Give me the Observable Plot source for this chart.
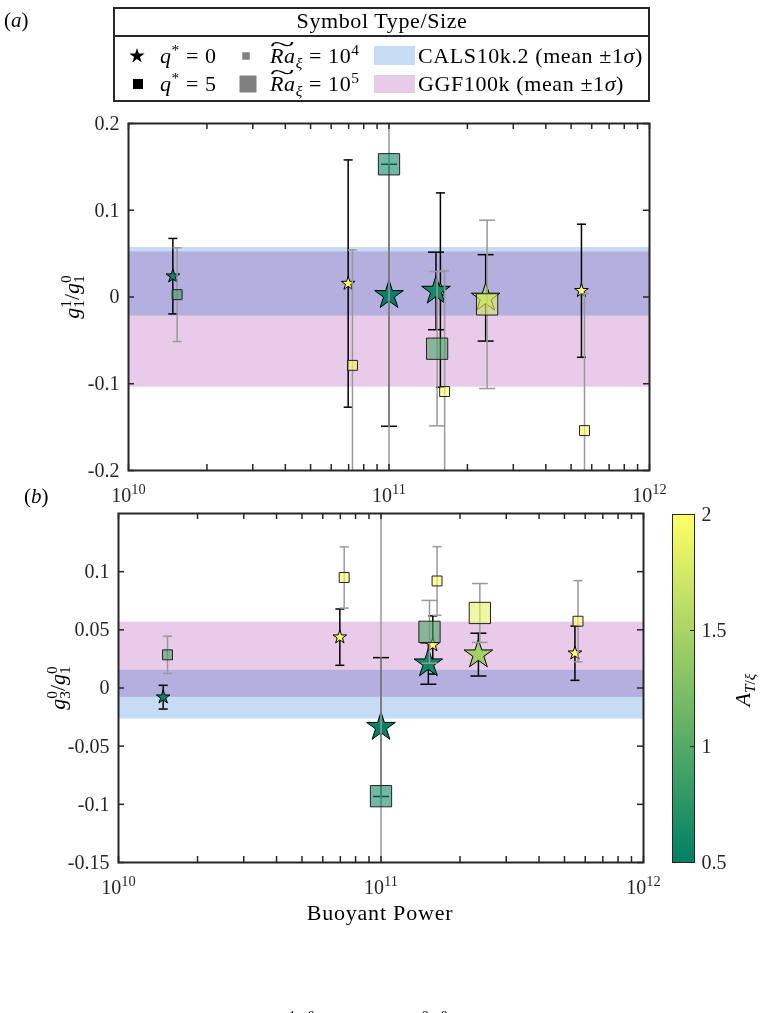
<!DOCTYPE html>
<html><head><meta charset="utf-8">
<script src="https://cdn.jsdelivr.net/npm/d3@7"></script>
<script src="https://cdn.jsdelivr.net/npm/@observablehq/plot@0.6"></script>
<style>
html,body{margin:0;padding:0;background:#fff;overflow:hidden;}
#root{position:relative;width:762px;height:1013px;overflow:hidden;font-family:"Liberation Serif",serif;color:#000;}
.tl{position:relative;display:inline-block;font-style:italic;}
.tl::before{content:"~";position:absolute;left:0;right:0;top:-0.55em;text-align:center;font-style:normal;transform:scaleX(2.1);}
sub,sup{font-size:0.7em;line-height:0;}
.sb{font-size:0.7em;position:relative;top:0.3em;}
.sp{font-size:0.7em;position:relative;top:-0.55em;margin-left:-0.5em;}
.sp2{font-size:0.7em;position:relative;top:-0.55em;}
</style></head>
<body><div id="root"></div>
<script>
// ---------------- DATA ----------------
// Background bands (mean ± 1σ)
const bandNames  = ["CALS10k.2", "GGF100k"];
const bandColors = ["#c6dcf4", "#e8cbe9"];
const bandMeanA  = [0.0175, -0.026];    // panel (a): g11/g10
const bandSigmaA = [0.0395, 0.078];
const bandMeanB  = [-0.00575, 0.0243];  // panel (b): g30/g10
const bandSigmaB = [0.02095, 0.0323];

// q* = 0 runs (stars)
const starPower  = [1.48e10, 6.97e10, 1.0e11, 1.515e11, 1.575e11, 2.35e11, 5.48e11];
const starRa     = [1e4, 1e4, 1e5, 1e5, 1e4, 1e5, 1e4];
const starA      = [0.55, 2.0, 0.5, 0.6, 2.0, 1.45, 2.0];
const starG11    = [0.024, 0.0155, 0.002, 0.007, 0.008, -0.001, 0.0072];
const starG11Err = [0.0435, 0.1425, 0.151, 0.0447, 0.112, 0.0498, 0.0767];
const starG30    = [-0.0079, 0.0437, -0.0336, 0.021, 0.037, 0.0287, 0.0299];
const starG30Err = [0.0102, 0.0242, 0.0597, 0.0178, 0.025, 0.0184, 0.0233];

// q* = 5 runs (squares)
const squarePower  = [1.537e10, 7.24e10, 1.0e11, 1.53e11, 1.635e11, 2.38e11, 5.63e11];
const squareRa     = [1e4, 1e4, 1e5, 1e5, 1e4, 1e5, 1e4];
const squareA      = [0.9, 2.0, 0.6, 0.95, 2.0, 1.85, 2.0];
const squareG11    = [0.0027, -0.0788, 0.153, -0.0596, -0.109, -0.0085, -0.154];
const squareG11Err = [0.054, 0.133, 0.4, 0.089, 0.139, 0.097, 0.158];
const squareG30    = [0.0285, 0.095, -0.093, 0.0483, 0.092, 0.0645, 0.0574];
const squareG30Err = [0.016, 0.0263, 0.3, 0.027, 0.0295, 0.0253, 0.0349];

// Ticks
const xMajorTicks = [1e10, 1e11, 1e12];
const xTickLabels = ["10^10", "10^11", "10^12"];
const xMinorTicks = [2e10,3e10,4e10,5e10,6e10,7e10,8e10,9e10,2e11,3e11,4e11,5e11,6e11,7e11,8e11,9e11];
const yTicksA = [-0.2, -0.1, 0, 0.1, 0.2];
const yTicksB = [-0.15, -0.1, -0.05, 0, 0.05, 0.1];
const cbarTicks = [0.5, 1, 1.5, 2];
const colorDomain = [0.5, 2];
const colorRange = ["#008066", "#ffff66"]; // summer colormap

// ---------------- DRAWING ----------------
const W = 762;
const root = document.getElementById("root");
const NS = "http://www.w3.org/2000/svg";
const AX = "#262626";
const FONT = "Liberation Serif, serif";

const capSymbol = {draw(ctx, size) { const w = Math.sqrt(size); ctx.moveTo(-w / 2, 0); ctx.lineTo(w / 2, 0); }};

function fmtY(d) { return d === 0 ? "0" : String(+d.toFixed(2)); }

function supify(svg) {
  svg.querySelectorAll("text").forEach(t => {
    const s = t.textContent;
    if (s.includes("^")) {
      const [b, e] = s.split("^");
      while (t.firstChild) t.removeChild(t.firstChild);
      const t1 = document.createElementNS(NS, "tspan"); t1.textContent = b;
      const t2 = document.createElementNS(NS, "tspan"); t2.textContent = e;
      t2.setAttribute("dy", "-0.55em"); t2.setAttribute("font-size", "0.72em");
      t.append(t1, t2);
    }
  });
}

function addAbs(el, left, top) {
  el.style.position = "absolute"; el.style.left = left + "px"; el.style.top = top + "px";
  root.appendChild(el);
}

function makePanel({val, err, sqVal, sqErr, yDomain, yTicks, bandMean, bandSigma, mL, mR, mT, mB, H}) {
  const stars = starPower.map((x, i) => ({x, y: val[i], e: err[i], Ra: starRa[i], A: starA[i]}));
  const squares = squarePower.map((x, i) => ({x, y: sqVal[i], e: sqErr[i], Ra: squareRa[i], A: squareA[i]}));
  const bands = bandNames.map((n, i) => ({name: n, lo: bandMean[i] - bandSigma[i], hi: bandMean[i] + bandSigma[i], color: bandColors[i]}));
  const small = d => d.Ra < 5e4, big = d => d.Ra >= 5e4;
  const innerW = W - mL - mR, innerH = H - mT - mB;
  const errMarks = (data, color) => [
    Plot.ruleX(data, {x: "x", y1: d => d.y - d.e, y2: d => d.y + d.e, stroke: color, strokeWidth: 1.5, clip: true}),
    ...[[small, 5.1], [big, 9]].flatMap(([f, r]) => [
      Plot.dot(data.filter(f), {x: "x", y: d => d.y + d.e, symbol: capSymbol, r, stroke: color, strokeWidth: 1.5, fill: "none", clip: true}),
      Plot.dot(data.filter(f), {x: "x", y: d => d.y - d.e, symbol: capSymbol, r, stroke: color, strokeWidth: 1.5, fill: "none", clip: true})
    ])
  ];
  const svg = Plot.plot({
    width: W, height: H, marginLeft: mL, marginRight: mR, marginTop: mT, marginBottom: mB,
    style: {fontFamily: FONT, fontSize: "20px", background: "transparent", overflow: "visible", color: AX},
    x: {type: "log", domain: [1e10, 1e12]},
    y: {domain: yDomain},
    color: {type: "linear", domain: colorDomain, range: colorRange, interpolate: "rgb"},
    marks: [
      ...bands.map(b => Plot.rect([b], {y1: "lo", y2: "hi", fill: b.color, mixBlendMode: "multiply"})),
      ...errMarks(stars, "#000"),
      Plot.dot(stars.filter(small), {x: "x", y: "y", symbol: "star", r: 4.3, fill: "A", stroke: "#000", strokeWidth: 1}),
      Plot.dot(stars.filter(big), {x: "x", y: "y", symbol: "star", r: 9, fill: "A", stroke: "#000", strokeWidth: 1}),
      ...errMarks(squares, "#999"),
      Plot.dot(squares.filter(small), {x: "x", y: "y", symbol: "square", r: 5.6, fill: "A", fillOpacity: 0.6, stroke: "#222", strokeWidth: 1}),
      Plot.dot(squares.filter(big), {x: "x", y: "y", symbol: "square", r: 12, fill: "A", fillOpacity: 0.6, stroke: "#222", strokeWidth: 1}),
      Plot.ruleX(xMinorTicks.concat(xMajorTicks), {x: d => d, insetTop: innerH - 6, stroke: AX, strokeWidth: 1.5}),
      Plot.ruleX(xMinorTicks.concat(xMajorTicks), {x: d => d, insetBottom: innerH - 6, stroke: AX, strokeWidth: 1.5}),
      Plot.ruleY(yTicks, {y: d => d, insetRight: innerW - 6, stroke: AX, strokeWidth: 1.5}),
      Plot.ruleY(yTicks, {y: d => d, insetLeft: innerW - 6, stroke: AX, strokeWidth: 1.5}),
      Plot.frame({stroke: AX, strokeWidth: 2}),
      Plot.axisX(xMajorTicks, {anchor: "bottom", tickSize: 0, tickPadding: 17, fontSize: 20, label: null,
        tickFormat: d => xTickLabels[xMajorTicks.indexOf(d)]}),
      Plot.axisY(yTicks, {anchor: "left", tickSize: 0, tickPadding: 9, fontSize: 20, label: null, tickFormat: fmtY})
    ]
  });
  supify(svg);
  return svg;
}

// Panel (a)
const svgA = makePanel({val: starG11, err: starG11Err, sqVal: squareG11, sqErr: squareG11Err,
  yDomain: [-0.2, 0.2], yTicks: yTicksA, bandMean: bandMeanA, bandSigma: bandSigmaA,
  mL: 128, mR: 113, mT: 23, mB: 40, H: 410});
addAbs(svgA, 0, 100);

// Panel (b)
const svgB = makePanel({val: starG30, err: starG30Err, sqVal: squareG30, sqErr: squareG30Err,
  yDomain: [-0.15, 0.15], yTicks: yTicksB, bandMean: bandMeanB, bandSigma: bandSigmaB,
  mL: 118, mR: 119, mT: 23, mB: 28, H: 400});
addAbs(svgB, 0, 490);

// Colorbar
const cbar = Plot.plot({
  width: 122, height: 400, marginLeft: 32, marginRight: 68, marginTop: 24, marginBottom: 28,
  style: {fontFamily: FONT, fontSize: "20px", background: "transparent", overflow: "visible", color: AX},
  x: {domain: [0, 1], axis: null},
  y: {domain: colorDomain},
  color: {type: "linear", domain: colorDomain, range: colorRange, interpolate: "rgb"},
  marks: [
    Plot.raster({fill: (x, y) => y, x1: 0, x2: 1, y1: colorDomain[0], y2: colorDomain[1], pixelSize: 1}),
    Plot.ruleY(cbarTicks, {y: d => d, insetLeft: 18, stroke: AX, strokeWidth: 1}),
    Plot.frame({stroke: AX, strokeWidth: 1}),
    Plot.axisY(cbarTicks, {anchor: "right", tickSize: 0, tickPadding: 7, fontSize: 20, label: null, tickFormat: d => String(d)})
  ]
});
addAbs(cbar, 640, 490);

// ---------------- TEXT / LEGEND ----------------
function html(str, css) { const d = document.createElement("div"); d.innerHTML = str; d.style.cssText = css; root.appendChild(d); return d; }
function gFrac(a1, b1, a2, b2) {
  return `<i>g</i><span class="sb">${b1}</span><span class="sp">${a1}</span>/<i>g</i><span class="sb">${b2}</span><span class="sp">${a2}</span>`;
}
function rot(str, cx, cy, fs) {
  html(str, `position:absolute;left:${cx}px;top:${cy}px;transform:translate(-50%,-50%) rotate(-90deg);white-space:nowrap;font-size:${fs}px;line-height:1;`);
}

html("(<i>a</i>)", "position:absolute;left:4px;top:10px;font-size:21px;line-height:1;");
html("(<i>b</i>)", "position:absolute;left:24px;top:486px;font-size:21px;line-height:1;");

rot(gFrac(1, 1, 0, 1), 72, 297, 22);
rot(gFrac(0, 3, 0, 1), 58, 688, 22);
rot(`<i>A</i><sub><i>T</i>/<i>ξ</i></sub>`, 743, 690, 22);
html("Buoyant Power", "position:absolute;left:380px;top:913px;transform:translate(-50%,-50%);font-size:22px;letter-spacing:0.8px;line-height:1;white-space:nowrap;");

// Legend box
const LF = "font-size:22px;letter-spacing:0.6px;line-height:1;white-space:nowrap;";
html("", "position:absolute;left:113px;top:7px;width:537px;height:95px;border:2px solid #262626;box-sizing:border-box;");
html("", "position:absolute;left:113px;top:35px;width:537px;height:2px;background:#262626;");
html("Symbol Type/Size", `position:absolute;left:382px;top:21px;transform:translate(-50%,-50%);${LF}`);

function symSvg(type, size, fill, w) {
  const path = d3.symbol(type, size)();
  return `<svg width="${w}" height="${w}" viewBox="${-w/2} ${-w/2} ${w} ${w}" style="display:block"><path d="${path}" fill="${fill}"/></svg>`;
}
const row1 = 56, row2 = 84;
function sym(str, cx, cy, w) { html(str, `position:absolute;left:${cx - w/2}px;top:${cy - w/2}px;width:${w}px;height:${w}px;`); }
sym(symSvg(d3.symbolStar, 72, "#000", 18), 137, row1, 18);
sym(symSvg(d3.symbolSquare, 100, "#000", 12), 138, row2, 12);
sym(symSvg(d3.symbolSquare, 56, "#808080", 10), 246, row1, 10);
sym(symSvg(d3.symbolSquare, 289, "#808080", 18), 248, row2, 18);
html("", `position:absolute;left:374px;top:${row1 - 10}px;width:41px;height:19px;background:${bandColors[0]};`);
html("", `position:absolute;left:374px;top:${row2 - 9}px;width:41px;height:18px;background:${bandColors[1]};`);
const rowText = (str, x, y) => html(str, `position:absolute;left:${x}px;top:${y}px;transform:translateY(-50%);${LF}`);
rowText("<i>q</i><sup>*</sup> = 0", 160, row1);
rowText("<i>q</i><sup>*</sup> = 5", 160, row2);
rowText('<span class="tl">Ra</span><sub><i>ξ</i></sub> = 10<sup>4</sup>', 270, row1);
rowText('<span class="tl">Ra</span><sub><i>ξ</i></sub> = 10<sup>5</sup>', 270, row2);
rowText(bandNames[0] + " (mean ±1<i>σ</i>)", 418, row1);
rowText(bandNames[1] + " (mean ±1<i>σ</i>)", 418, row2);

// cut-off caption line at the very bottom of the picture (only the tops of the superscripts show)
html(`<i>g</i><span class="sp2">1</span>/<i>g</i><span class="sp2">0</span>`, "position:absolute;left:280px;top:1012px;font-size:20px;letter-spacing:-1.2px;line-height:1;white-space:nowrap;");
html(`<i>g</i><span class="sp2">0</span>/<i>g</i><span class="sp2">0</span>`, "position:absolute;left:413px;top:1012px;font-size:20px;letter-spacing:-1.2px;line-height:1;white-space:nowrap;");
</script></body></html>
